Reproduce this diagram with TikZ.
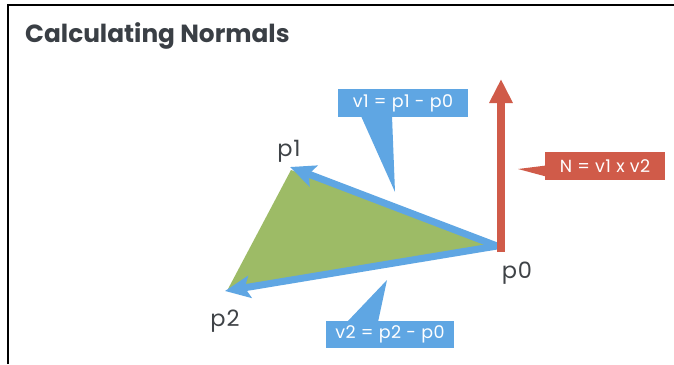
\documentclass[tikz,border=0pt]{standalone}
\usepackage{fontspec}
\setmainfont{Poppins}
\usetikzlibrary{arrows.meta}
\definecolor{blu}{HTML}{5FA6E3}
\definecolor{grn}{HTML}{9DBB66}
\definecolor{rd}{HTML}{D05B49}
\definecolor{ttl}{HTML}{3A3F45}
\definecolor{lbl}{HTML}{3F4347}
\tikzset{
  vec/.style={line width=7pt, blu, -{Stealth[length=25pt,width=22pt,inset=5pt]}},
  normal/.style={line width=8pt, rd, -{Triangle[length=24pt,width=22pt]}},
  callout/.style={text=white, font=\fontsize{17.5}{17.5}\selectfont\addfontfeature{LetterSpace=3}, minimum height=28pt, inner sep=0pt},
  ptlabel/.style={text=lbl, font=\fontsize{22.5}{22.5}\selectfont\addfontfeature{LetterSpace=4}, inner sep=0pt, anchor=base},
}
\begin{document}
\begin{tikzpicture}[x=1pt,y=-1pt]
\useasboundingbox (0,0) rectangle (674,364);
\fill[white] (0,0) rectangle (674,364);
\draw[line width=2pt, black] (8,364) -- (8,5) -- (674,5);
\node[anchor=base west, text=ttl, font=\fontsize{24.8}{24.8}\selectfont\bfseries, inner sep=0pt] (title) at (25,42) {Calculating Normals};

% vertices
\coordinate (p0) at (497,246);
\coordinate (p1) at (290,167);
\coordinate (p2) at (225,291);
\coordinate (n) at (501,79);
\coordinate (nbase) at (501,252);

% triangle
\fill[grn] (494,246) -- (291,170) -- (228,289) -- cycle;

% vectors
\draw[vec] (p0) -- (p1);
\draw[vec] (p0) -- (p2);
\draw[normal] (nbase) -- (n);

% callouts
\node[callout, fill=blu, minimum width=130pt] (v1) at (403,103) {v1 = p1 - p0};
\coordinate (v1tip) at (395,192);
\fill[blu] (361,116) -- (392,116) -- (v1tip) -- cycle;

\node[callout, fill=blu, minimum width=128pt, minimum height=27pt] (v2) at (390,334.5) {v2 = p2 - p0};
\coordinate (v2tip) at (387,280);
\fill[blu] (347,322) -- (378,322) -- (v2tip) -- cycle;

\node[callout, fill=rd, minimum width=120pt] (nl) at (605,166) {N = v1 x v2};
\coordinate (ntip) at (518,169);
\fill[rd] (546,165.5) -- (ntip) -- (546,176.5) -- cycle;

% point labels
\node[ptlabel] (l1) at (289,156) {p1};
\node[ptlabel] (l0) at (517,278) {p0};
\node[ptlabel] (l2) at (225,326) {p2};
\end{tikzpicture}
\end{document}
